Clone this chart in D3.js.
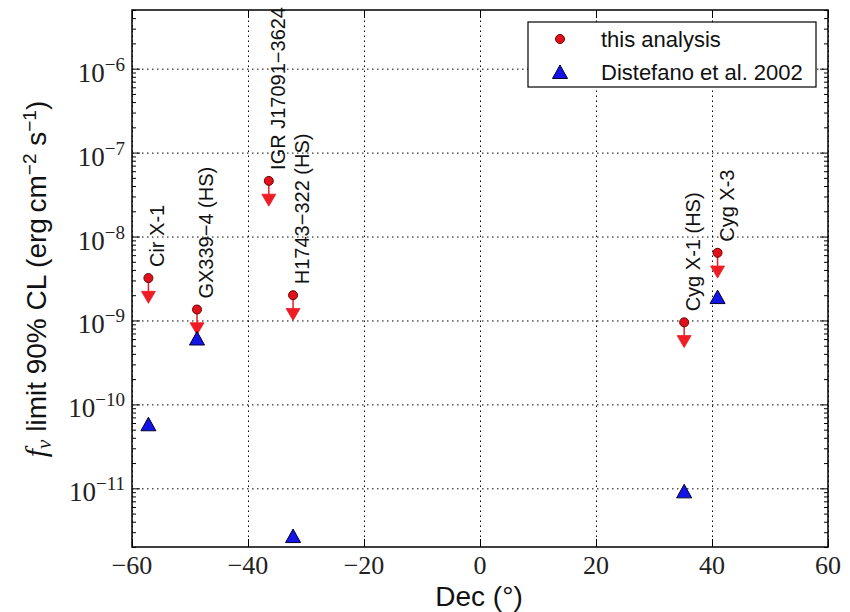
<!DOCTYPE html>
<html><head><meta charset="utf-8">
<script src="https://cdn.jsdelivr.net/npm/d3@7/dist/d3.min.js"></script>
<style>body{margin:0;background:#fff}svg{display:block}</style>
</head><body>
<svg id="chart" width="850" height="612"></svg>
<script>
// ---- data ----
const sourceNames = ["Cir X-1", "GX339\u22124 (HS)", "IGR J17091\u22123624", "H1743\u2212322 (HS)", "Cyg X-1 (HS)", "Cyg X-3"];
const sourceDec = [-57.17, -48.79, -36.41, -32.23, 35.20, 40.96];
const thisAnalysis = [3.2e-9, 1.35e-9, 4.6e-8, 2.0e-9, 9.5e-10, 6.4e-9];
const distefanoDec = [-57.17, -48.79, -32.23, 35.20, 40.96];
const distefano = [5.8e-11, 6.1e-10, 2.7e-12, 9.2e-12, 1.9e-9];
const xTicks = [-60, -40, -20, 0, 20, 40, 60];
const yTickExp = [-6, -7, -8, -9, -10, -11];
const legendLabels = ["this analysis", "Distefano et al. 2002"];

// ---- layout ----
const svg = d3.select("#chart");
const m = {left: 132, top: 10, right: 828, bottom: 547};
const x = d3.scaleLinear().domain([-60, 60]).range([m.left, m.right]);
const y = d3.scaleLog().domain([2e-12, 5e-6]).range([m.bottom, m.top]);
const W = m.right - m.left, H = m.bottom - m.top;

// grid
const g = svg.append("g");
g.append("g").attr("transform", `translate(0,${m.bottom})`)
  .call(d3.axisBottom(x).tickValues(xTicks).tickSize(-H).tickFormat(""))
  .call(s => { s.select(".domain").remove(); s.selectAll("line").attr("stroke", "#000").attr("stroke-dasharray", "1.5,3.5").attr("stroke-width", 1); });
const yMajor = yTickExp.map(e => Math.pow(10, e));
g.append("g").attr("transform", `translate(${m.left},0)`)
  .call(d3.axisLeft(y).tickValues(yMajor).tickSize(-W).tickFormat(""))
  .call(s => { s.select(".domain").remove(); s.selectAll("line").attr("stroke", "#000").attr("stroke-dasharray", "1.5,3.5").attr("stroke-width", 1); });

// minor ticks on y
const yMinor = [];
for (let e = -12; e <= -6; e++) for (let k = 2; k <= 9; k++) { const v = k * Math.pow(10, e); if (v >= 2e-12 && v <= 5e-6) yMinor.push(v); }
function tickStyle(s){ s.select(".domain").remove(); s.selectAll("line").attr("stroke","#000").attr("stroke-width",1); s.selectAll("text").remove(); }
g.append("g").attr("transform", `translate(${m.left},0)`).call(d3.axisRight(y).tickValues(yMinor).tickSize(4)).call(tickStyle);
g.append("g").attr("transform", `translate(${m.right},0)`).call(d3.axisLeft(y).tickValues(yMinor).tickSize(4)).call(tickStyle);
g.append("g").attr("transform", `translate(${m.left},0)`).call(d3.axisRight(y).tickValues(yMajor).tickSize(8)).call(tickStyle);
g.append("g").attr("transform", `translate(${m.right},0)`).call(d3.axisLeft(y).tickValues(yMajor).tickSize(8)).call(tickStyle);
g.append("g").attr("transform", `translate(0,${m.bottom})`).call(d3.axisTop(x).tickValues(xTicks).tickSize(8)).call(tickStyle);
g.append("g").attr("transform", `translate(0,${m.top})`).call(d3.axisBottom(x).tickValues(xTicks).tickSize(8)).call(tickStyle);

// frame
svg.append("rect").attr("x", m.left).attr("y", m.top).attr("width", W).attr("height", H)
  .attr("fill", "none").attr("stroke", "#000").attr("stroke-width", 1.5);

// tick labels
const serif = "'Liberation Serif', 'DejaVu Serif', serif";
svg.append("g").selectAll("text").data(xTicks).join("text")
  .attr("x", d => x(d)).attr("y", m.bottom + 27).attr("text-anchor", "middle")
  .attr("font-family", serif).attr("font-size", 26).attr("fill", "#222")
  .text(d => d < 0 ? "\u2212" + Math.abs(d) : String(d));
const yl = svg.append("g").selectAll("text").data(yTickExp).join("text")
  .attr("x", m.left - 7).attr("y", d => y(Math.pow(10, d)) + 13).attr("text-anchor", "end")
  .attr("font-family", serif).attr("font-size", 27).attr("fill", "#222");
yl.append("tspan").text("10");
yl.append("tspan").attr("font-size", 19).attr("dy", -11).text(d => "\u2212" + Math.abs(d));

// axis titles
const sans = "'Liberation Sans', Arial, Helvetica, sans-serif";
svg.append("text").attr("x", 479).attr("y", 606).attr("text-anchor", "middle")
  .attr("font-family", sans).attr("font-size", 28).attr("fill", "#111").text("Dec (\u00B0)");
const ylab = svg.append("text").attr("transform", "translate(46,279) rotate(-90)").attr("text-anchor", "middle")
  .attr("font-family", sans).attr("font-size", 28).attr("fill", "#111");
ylab.append("tspan").attr("font-style", "italic").attr("font-family", serif).attr("font-size", 30).text("f");
ylab.append("tspan").attr("font-style", "italic").attr("font-family", serif).attr("font-size", 21).attr("dy", 5).text("\u03BD");
ylab.append("tspan").attr("dy", -5).text(" limit 90% CL (erg\u2009cm");
ylab.append("tspan").attr("font-size", 19).attr("dy", -10).text("\u22122");
ylab.append("tspan").attr("dy", 10).text(" s");
ylab.append("tspan").attr("font-size", 19).attr("dy", -10).text("\u22121");
ylab.append("tspan").attr("dy", 10).text(")");

// marks
const red = "#ee1c24", blue = "#1414e6";
const pts = sourceNames.map((n, i) => ({name: n, dec: sourceDec[i], v: thisAnalysis[i]}));
const marks = svg.append("g");
marks.selectAll("line.arr").data(pts).join("line")
  .attr("x1", d => x(d.dec)).attr("x2", d => x(d.dec))
  .attr("y1", d => y(d.v)).attr("y2", d => y(d.v * 0.5) - 6)
  .attr("stroke", red).attr("stroke-width", 1.5);
marks.selectAll("path.cd").data(pts).join("path")
  .attr("transform", d => `translate(${x(d.dec)},${y(d.v * 0.5)})`)
  .attr("d", "M-7,-12L7,-12L0,0Z").attr("fill", red).attr("stroke", red).attr("stroke-width", 0.8);
marks.selectAll("circle").data(pts).join("circle")
  .attr("cx", d => x(d.dec)).attr("cy", d => y(d.v)).attr("r", 4.5)
  .attr("fill", "#e0101a").attr("stroke", "#700000").attr("stroke-width", 1);
const dpts = distefanoDec.map((d, i) => ({dec: d, v: distefano[i]}));
marks.selectAll("path.tri").data(dpts).join("path")
  .attr("transform", d => `translate(${x(d.dec)},${y(d.v)})`)
  .attr("d", "M-7.5,6.5L7.5,6.5L0,-7Z").attr("fill", blue).attr("stroke", "#000033").attr("stroke-width", 1);

// source labels
svg.append("g").selectAll("text").data(pts).join("text")
  .attr("transform", d => `translate(${x(d.dec) + 9},${y(d.v) - 11}) rotate(-90)`)
  .attr("dy", "0.35em").attr("font-family", sans).attr("font-size", 20).attr("fill", "#111")
  .text(d => d.name);

// legend
const lg = svg.append("g");
lg.append("rect").attr("x", 528).attr("y", 22).attr("width", 288).attr("height", 65)
  .attr("fill", "#fff").attr("stroke", "#000").attr("stroke-width", 1.2);
lg.append("circle").attr("cx", 560).attr("cy", 39).attr("r", 4.5).attr("fill", "#e0101a").attr("stroke", "#700000");
lg.append("path").attr("transform", "translate(560,72)").attr("d", "M-7.5,6.5L7.5,6.5L0,-7Z").attr("fill", blue).attr("stroke", "#000033");
lg.selectAll("text").data(legendLabels).join("text")
  .attr("x", 601).attr("y", (d, i) => 39 + i * 33).attr("dy", "0.35em")
  .attr("font-family", sans).attr("font-size", 22).attr("fill", "#111").text(d => d);
</script>
</body></html>
